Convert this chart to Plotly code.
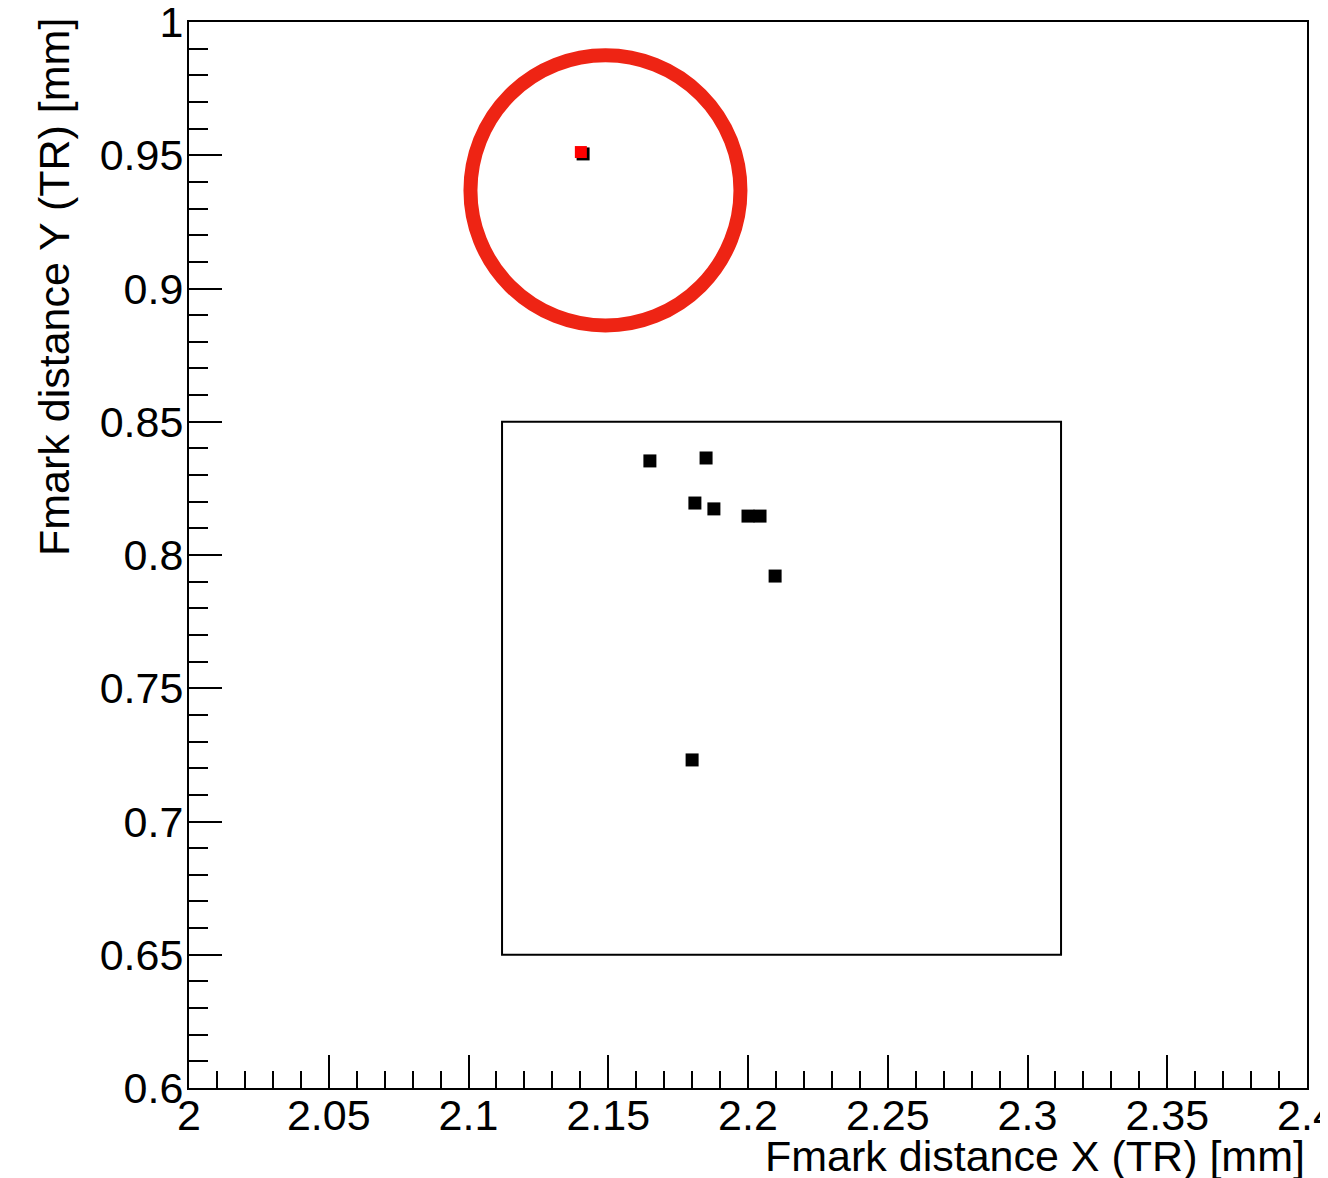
import plotly.graph_objects as go

# Black measurement points
x_points = [2.1649, 2.1850, 2.1810, 2.1878, 2.2000, 2.2043, 2.2097, 2.1800, 2.1410]
y_points = [0.8353, 0.8364, 0.8195, 0.8173, 0.8146, 0.8146, 0.7921, 0.7231, 0.9505]

# Red reference point
x_ref = [2.1402]
y_ref = [0.9512]

# Red ring: centre and radii (data units)
ring_center = [2.1490, 0.9368]
ring_radius = [0.0483, 0.0507]

# Acceptance box
box_x = [2.112, 2.312]
box_y = [0.65, 0.85]

x_range = [2.0, 2.4]
y_range = [0.6, 1.0]
x_tickvals = [2.0, 2.05, 2.1, 2.15, 2.2, 2.25, 2.3, 2.35, 2.4]
x_ticktext = ["2", "2.05", "2.1", "2.15", "2.2", "2.25", "2.3", "2.35", "2.4"]
y_tickvals = [0.6, 0.65, 0.7, 0.75, 0.8, 0.85, 0.9, 0.95, 1.0]
y_ticktext = ["0.6", "0.65", "0.7", "0.75", "0.8", "0.85", "0.9", "0.95", "1"]

FONT = "Liberation Sans, Arial, Helvetica, sans-serif"
FS = 43

fig = go.Figure()
fig.add_trace(go.Scatter(
    x=x_points, y=y_points, mode="markers",
    marker=dict(symbol="square", size=13, color="black"),
    showlegend=False, hoverinfo="x+y"))
fig.add_trace(go.Scatter(
    x=x_ref, y=y_ref, mode="markers",
    marker=dict(symbol="square", size=12, color="#ff0000"),
    showlegend=False, hoverinfo="x+y"))

fig.add_shape(type="circle", xref="x", yref="y",
              x0=ring_center[0] - ring_radius[0], x1=ring_center[0] + ring_radius[0],
              y0=ring_center[1] - ring_radius[1], y1=ring_center[1] + ring_radius[1],
              line=dict(color="#ee2414", width=14), layer="below")
fig.add_shape(type="rect", xref="x", yref="y",
              x0=box_x[0], x1=box_x[1], y0=box_y[0], y1=box_y[1],
              line=dict(color="black", width=2), layer="below")

axis_common = dict(
    showgrid=False, zeroline=False, showline=True, linecolor="black", linewidth=2,
    mirror=True, ticks="inside", ticklen=33, tickwidth=2, tickcolor="black",
    tickfont=dict(family=FONT, size=FS, color="black"),
    automargin=False, ticklabeloverflow="allow",
)

fig.update_xaxes(range=x_range, tickvals=x_tickvals, ticktext=x_ticktext,
                 ticklabelstandoff=-12,
                 minor=dict(dtick=0.01, tick0=2.0, ticks="inside", ticklen=17,
                            tickwidth=2, tickcolor="black"),
                 **axis_common)
fig.update_yaxes(range=y_range, tickvals=y_tickvals, ticktext=y_ticktext,
                 ticklabelstandoff=-5,
                 minor=dict(dtick=0.01, tick0=0.6, ticks="inside", ticklen=19,
                            tickwidth=2, tickcolor="black"),
                 **axis_common)

fig.add_annotation(text="Fmark distance X (TR) [mm]", xref="paper", yref="paper",
                   x=1, y=0, xanchor="right", yanchor="top", yshift=-42,
                   showarrow=False, font=dict(family=FONT, size=FS, color="black"))
fig.add_annotation(text="Fmark distance Y (TR) [mm]", xref="paper", yref="paper",
                   x=0, y=1, xanchor="center", yanchor="top", xshift=-135, yshift=6,
                   textangle=-90, showarrow=False,
                   font=dict(family=FONT, size=FS, color="black"))

# The page body adds an 8px offset, so the figure is 8px smaller and margins shifted.
fig.update_layout(
    width=1320, height=1170,
    margin=dict(l=181, r=21, t=14, b=90),
    paper_bgcolor="white", plot_bgcolor="white",
    showlegend=False,
)

fig.write_html("out.html")
